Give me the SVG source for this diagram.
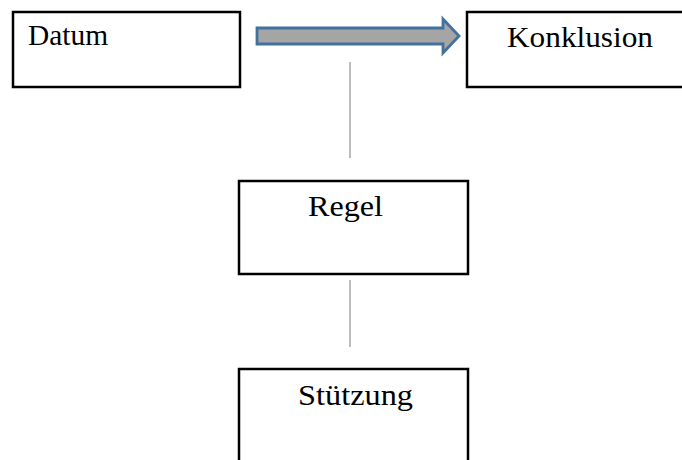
<svg xmlns="http://www.w3.org/2000/svg" width="682" height="460" viewBox="0 0 682 460">
<style>
.box{fill:#fff;stroke:#000;stroke-width:2.5}
.t{font-family:"Liberation Serif","Times New Roman",serif;font-size:29px;fill:#000}
.ln{stroke:#a6a6a6;stroke-width:1.5}
</style>
<rect width="682" height="460" fill="#fff"/>
<g id="datum"><rect class="box" x="13" y="12" width="227" height="75"/><text class="t" x="28" y="45" textLength="80" lengthAdjust="spacingAndGlyphs">Datum</text></g>
<g id="konklusion"><rect class="box" x="467" y="12" width="230" height="75"/><text class="t" x="507" y="47" textLength="146" lengthAdjust="spacingAndGlyphs">Konklusion</text></g>
<g id="regel"><rect class="box" x="239" y="181" width="229" height="93"/><text class="t" x="308" y="216" textLength="75" lengthAdjust="spacingAndGlyphs">Regel</text></g>
<g id="stuetzung"><rect class="box" x="239" y="369" width="229" height="110"/><text class="t" x="298" y="405" textLength="115" lengthAdjust="spacingAndGlyphs">Stützung</text></g>
<g id="connectors">
<path d="M257,28 H443 V19 L459,36 L443,53 V44 H257 Z" fill="#a5a5a5" stroke="#41719c" stroke-width="2.8"/>
<line class="ln" x1="350" y1="62" x2="350" y2="158"/>
<line class="ln" x1="350" y1="280" x2="350" y2="347"/>
</g>
</svg>
